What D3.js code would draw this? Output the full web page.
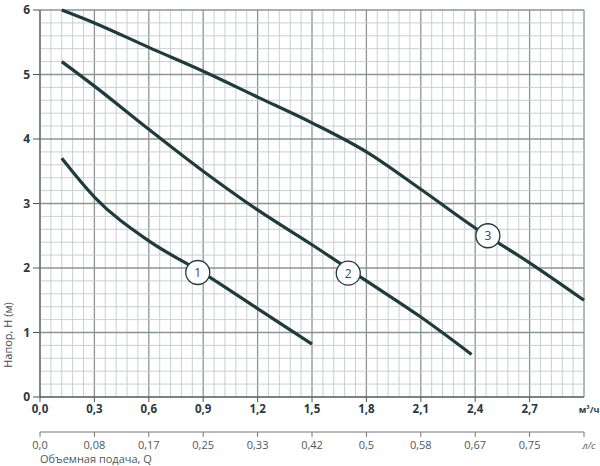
<!DOCTYPE html>
<html><head><meta charset="utf-8">
<script src="https://cdn.jsdelivr.net/npm/d3@7"></script>
<style>body{margin:0;background:#fff}text{font-family:"Open Sans",sans-serif}</style>
</head><body>
<svg id="svg" width="600" height="466"></svg>
<script>
// flow Q (m3/h) and head H (m) for each speed
const curve1 = [[0.12,3.7],[0.3,3.1],[0.6,2.42],[0.9,1.92],[1.2,1.37],[1.5,0.82]];
const curve2 = [[0.12,5.2],[0.3,4.82],[0.6,4.15],[0.9,3.5],[1.2,2.9],[1.5,2.36],[1.8,1.8],[2.1,1.24],[2.38,0.66]];
const curve3 = [[0.12,6.0],[0.3,5.8],[0.6,5.42],[0.9,5.05],[1.2,4.65],[1.5,4.25],[1.8,3.8],[2.1,3.22],[2.4,2.62],[2.7,2.08],[3.0,1.5]];
const markers = [[0.87,1.93,"1"],[1.7,1.92,"2"],[2.47,2.5,"3"]];
const m3hTicks = ["0,0","0,3","0,6","0,9","1,2","1,5","1,8","2,1","2,4","2,7"];
const lsTicks = ["0,0","0,08","0,17","0,25","0,33","0,42","0,5","0,58","0,67","0,75"];
const headTicks = [0,1,2,3,4,5,6];

const svg = d3.select("#svg");
const x = d3.scaleLinear().domain([0,3]).range([40,584]);
const y = d3.scaleLinear().domain([0,6]).range([397,10]);
const ink = "#1f3b3d";

// grid
const g = svg.append("g");
g.selectAll(".vx").data(d3.range(0,51)).join("line")
  .attr("x1", i => x(i*0.06)).attr("x2", i => x(i*0.06))
  .attr("y1", y(0)).attr("y2", y(6))
  .attr("stroke", i => i%5===0 ? "#8a9494" : "#c4c9c9")
  .attr("stroke-width", i => i%5===0 ? 1.3 : 0.9);
g.selectAll(".hy").data(d3.range(0,31)).join("line")
  .attr("y1", i => y(i*0.2)).attr("y2", i => y(i*0.2))
  .attr("x1", x(0)).attr("x2", x(3))
  .attr("stroke", i => i%5===0 ? "#8a9494" : "#c4c9c9")
  .attr("stroke-width", i => i%5===0 ? 1.3 : 0.9);
g.append("line").attr("x1",x(0)).attr("x2",x(0)).attr("y1",y(0)).attr("y2",y(6)).attr("stroke","#555");
g.append("line").attr("x1",x(0)).attr("x2",x(3)).attr("y1",y(0)).attr("y2",y(0)).attr("stroke","#555");

// y labels
svg.selectAll(".yl").data(headTicks).join("text")
  .attr("x", 30).attr("y", d => y(d)+4).attr("text-anchor","end")
  .attr("font-size",12).attr("font-weight","bold").attr("fill","#2a3a3c").text(d => d);
svg.selectAll(".yt").data(headTicks).join("line")
  .attr("x1",33).attr("x2",40).attr("y1",d=>y(d)).attr("y2",d=>y(d)).attr("stroke","#555");
svg.append("text").attr("transform","translate(12,335) rotate(-90)")
  .attr("font-size",11).attr("fill","#3a4a4c").attr("text-anchor","middle").text("Напор, H (м)");

// m3/h axis
svg.selectAll(".xl").data(m3hTicks).join("text")
  .attr("x",(d,i)=>x(i*0.3)).attr("y",413).attr("text-anchor","middle")
  .attr("font-size",11.5).attr("font-weight","bold").attr("fill","#2a3a3c").text(d=>d);
svg.selectAll(".xt").data(m3hTicks).join("line")
  .attr("x1",(d,i)=>x(i*0.3)).attr("x2",(d,i)=>x(i*0.3)).attr("y1",397).attr("y2",402).attr("stroke","#555");
svg.append("text").attr("x",589).attr("y",413).attr("text-anchor","middle")
  .attr("font-size",9).attr("font-weight","bold").attr("fill","#2a3a3c").text("м³/ч");

// l/s axis
svg.append("line").attr("x1",x(0)).attr("x2",x(3)).attr("y1",432).attr("y2",432).attr("stroke","#777");
svg.selectAll(".lt").data(lsTicks).join("line")
  .attr("x1",(d,i)=>x(i*0.3)).attr("x2",(d,i)=>x(i*0.3)).attr("y1",432).attr("y2",437).attr("stroke","#777");
svg.append("line").attr("x1",x(3)).attr("x2",x(3)).attr("y1",432).attr("y2",437).attr("stroke","#777");
svg.selectAll(".ll").data(lsTicks).join("text")
  .attr("x",(d,i)=>x(i*0.3)).attr("y",449).attr("text-anchor","middle")
  .attr("font-size",11).attr("fill","#4a5a5c").text(d=>d);
svg.append("text").attr("x",589).attr("y",449).attr("text-anchor","middle")
  .attr("font-size",9.5).attr("font-style","italic").attr("fill","#4a5a5c").text("л/с");
svg.append("text").attr("x",40).attr("y",463)
  .attr("font-size",11).attr("fill","#4a5a5c").text("Объемная подача, Q");

// curves
const line = d3.line().x(d=>x(d[0])).y(d=>y(d[1])).curve(d3.curveMonotoneX);
svg.selectAll(".curve").data([curve1,curve2,curve3]).join("path")
  .attr("d", line).attr("fill","none").attr("stroke",ink).attr("stroke-width",3.2);

// markers
const mk = svg.selectAll(".mk").data(markers).join("g")
  .attr("transform", d => `translate(${x(d[0])},${y(d[1])})`);
mk.append("circle").attr("r",12).attr("fill","#fff").attr("stroke",ink).attr("stroke-width",1.3);
mk.append("text").attr("text-anchor","middle").attr("dominant-baseline","central")
  .attr("font-size",12).attr("fill","#3a4a4c").text(d=>d[2]);
</script>
</body></html>
